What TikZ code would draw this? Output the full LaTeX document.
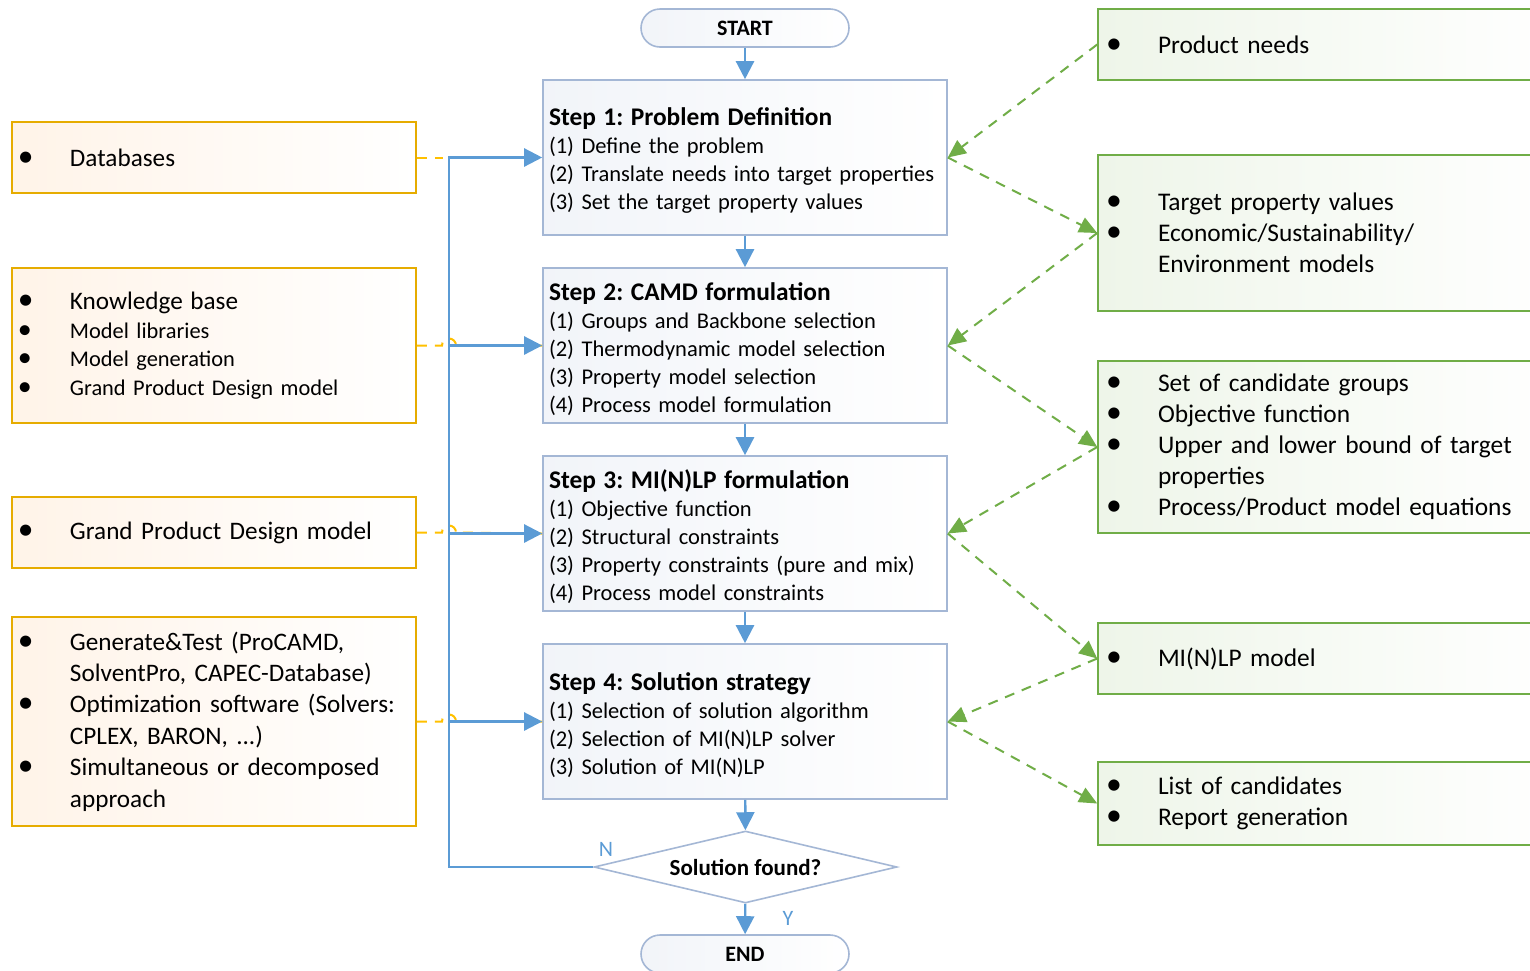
\documentclass[tikz,border=0pt]{standalone}
\usepackage{fontspec}
\setmainfont{Carlito}
\usetikzlibrary{arrows.meta,shapes.geometric}
\definecolor{flowblue}{HTML}{5B9BD5}
\definecolor{boxline}{HTML}{A4B7D5}
\definecolor{toolorange}{HTML}{E6AC00}
\definecolor{tieorange}{HTML}{FFC000}
\definecolor{infogreen}{HTML}{70AD47}
\frenchspacing
\newcommand{\bl}[1]{\makebox[26pt][l]{\scalebox{1.25}{\textbullet}}#1}
\newcommand{\cl}[1]{\hspace*{26pt}#1}
\newcommand{\steptitle}[1]{{\bfseries\fontsize{12.7}{14}\selectfont\rule{0pt}{12.4pt}#1}}
\begin{document}
\begin{tikzpicture}[x=0.5pt,y=-0.5pt,every node/.style={inner sep=0pt},
  term/.style={draw=boxline,line width=0.8pt,rounded corners=9.5pt,minimum width=104pt,minimum height=19pt,left color=boxline!15,right color=white,font=\bfseries\fontsize{11}{13}\selectfont},
  stepbox/.style={draw=boxline,line width=0.8pt,minimum width=202pt,minimum height=77.5pt,inner xsep=3pt,text width=196pt,align=left,left color=boxline!15,right color=white,font=\fontsize{11.25}{14}\selectfont},
  toolbox/.style={draw=toolorange,line width=0.8pt,inner xsep=3pt,text width=196pt,align=left,left color=orange!9,right color=white,font=\fontsize{12.6}{15.7}\selectfont},
  infobox/.style={draw=infogreen,line width=0.8pt,inner xsep=4pt,text width=223pt,align=left,left color=infogreen!12,right color=white,font=\fontsize{12.7}{15.5}\selectfont},
  flow/.style={flowblue,line width=1.2pt,-{Triangle[width=9pt,length=9pt]}},
  link/.style={infogreen,line width=1pt,dash pattern=on 5pt off 4pt,-{Triangle[width=8pt,length=9pt]}},
  tie/.style={tieorange,line width=1pt,dash pattern=on 5pt off 4pt}]
\useasboundingbox (0,0) rectangle (1530,970);
\clip (0,0) rectangle (1530,970);

% main column
\node[term] (start) at (745,28) {START};
\node[stepbox] (s1) at (745,157.5) {\steptitle{Step 1: Problem Definition}\\(1) Define the problem\\(2) Translate needs into target properties\\(3) Set the target property values};
\node[stepbox] (s2) at (745,345.5) {\steptitle{Step 2: CAMD formulation}\\(1) Groups and Backbone selection\\(2) Thermodynamic model selection\\(3) Property model selection\\(4) Process model formulation};
\node[stepbox] (s3) at (745,533.5) {\steptitle{Step 3: MI(N)LP formulation}\\(1) Objective function\\(2) Structural constraints\\(3) Property constraints (pure and mix)\\(4) Process model constraints};
\node[stepbox] (s4) at (745,721.5) {\steptitle{Step 4: Solution strategy}\\(1) Selection of solution algorithm\\(2) Selection of MI(N)LP solver\\(3) Solution of MI(N)LP};
\node[draw=boxline,line width=0.8pt,diamond,aspect=4.2,minimum width=151.5pt,minimum height=36pt,fill=white,font=\bfseries\fontsize{11.5}{13}\selectfont] (dec) at (745.5,867) {Solution found?};
\node[term] (end) at (745,954) {END};

% tools on the left
\node[toolbox,minimum height=35.5pt] (db) at (214,157.5) {\bl{Databases}};
\node[toolbox,minimum height=77.5pt,font=\fontsize{11.2}{14.3}\selectfont] (kb) at (214,345.5) {{\fontsize{12.6}{14.3}\selectfont\bl{Knowledge base}}\\\bl{Model libraries}\\\bl{Model generation}\\\bl{Grand Product Design model}};
\node[toolbox,minimum height=35.5pt] (gp) at (214,532.5) {\bl{Grand Product Design model}};
\node[toolbox,minimum height=104.5pt] (sw) at (214,721.5) {\bl{Generate\&Test (ProCAMD,}\\\cl{SolventPro, CAPEC-Database)}\\\bl{Optimization software (Solvers:}\\\cl{CPLEX, BARON, ...)}\\\bl{Simultaneous or decomposed}\\\cl{approach}};

% information on the right
\node[infobox,minimum height=35.5pt] (pn) at (1329,44.5) {\bl{Product needs}};
\node[infobox,minimum height=78pt] (tp) at (1329,233) {\bl{Target property values}\\\bl{Economic/Sustainability/}\\\cl{Environment models}};
\node[infobox,minimum height=86pt] (cg) at (1329,447) {\bl{Set of candidate groups}\\\bl{Objective function}\\\bl{Upper and lower bound of target}\\\cl{properties}\\\bl{Process/Product model equations}};
\node[infobox,minimum height=35.5pt] (ml) at (1329,658.5) {\bl{MI(N)LP model}};
\node[infobox,minimum height=41.5pt] (lc) at (1329,803.5) {\bl{List of candidates}\\\bl{Report generation}};

\coordinate (rail) at (449,867);

% tools feed the steps
\draw[tie] (db.east) -- ([xshift=-3pt]rail |- db.east);
\foreach \t/\s in {kb/s2,gp/s3,sw/s4}
  \draw[tie] (\t.east) -- ([xshift=-3.5pt]rail |- \t.east) arc[start angle=180,end angle=360,radius=7] -- (\s.west);

\draw[flow] (start) -- (s1);
\draw[flow] (s1) -- (s2);
\draw[flow] (s2) -- (s3);
\draw[flow] (s3) -- (s4);
\draw[flow] (s4) -- (dec);
\draw[flow] (dec) -- (end);
\draw[flow] (dec.west) -- (rail) |- (s1.west);
\foreach \s in {s2,s3,s4}
  \draw[flow] (rail |- \s.west) -- (\s.west);
\node[text=flowblue,font=\fontsize{11}{13}\selectfont] (no) at (606,849) {N};
\node[text=flowblue,font=\fontsize{11}{13}\selectfont] (yes) at (788,918) {Y};

% in and out of each step
\draw[link] (pn.west) -- (s1.east);
\draw[link] (s1.east) -- (tp.west);
\draw[link] (tp.west) -- (s2.east);
\draw[link] (s2.east) -- (cg.west);
\draw[link] (cg.west) -- (s3.east);
\draw[link] (s3.east) -- (ml.west);
\draw[link] (ml.west) -- (s4.east);
\draw[link] (s4.east) -- (lc.west);
\end{tikzpicture}
\end{document}
